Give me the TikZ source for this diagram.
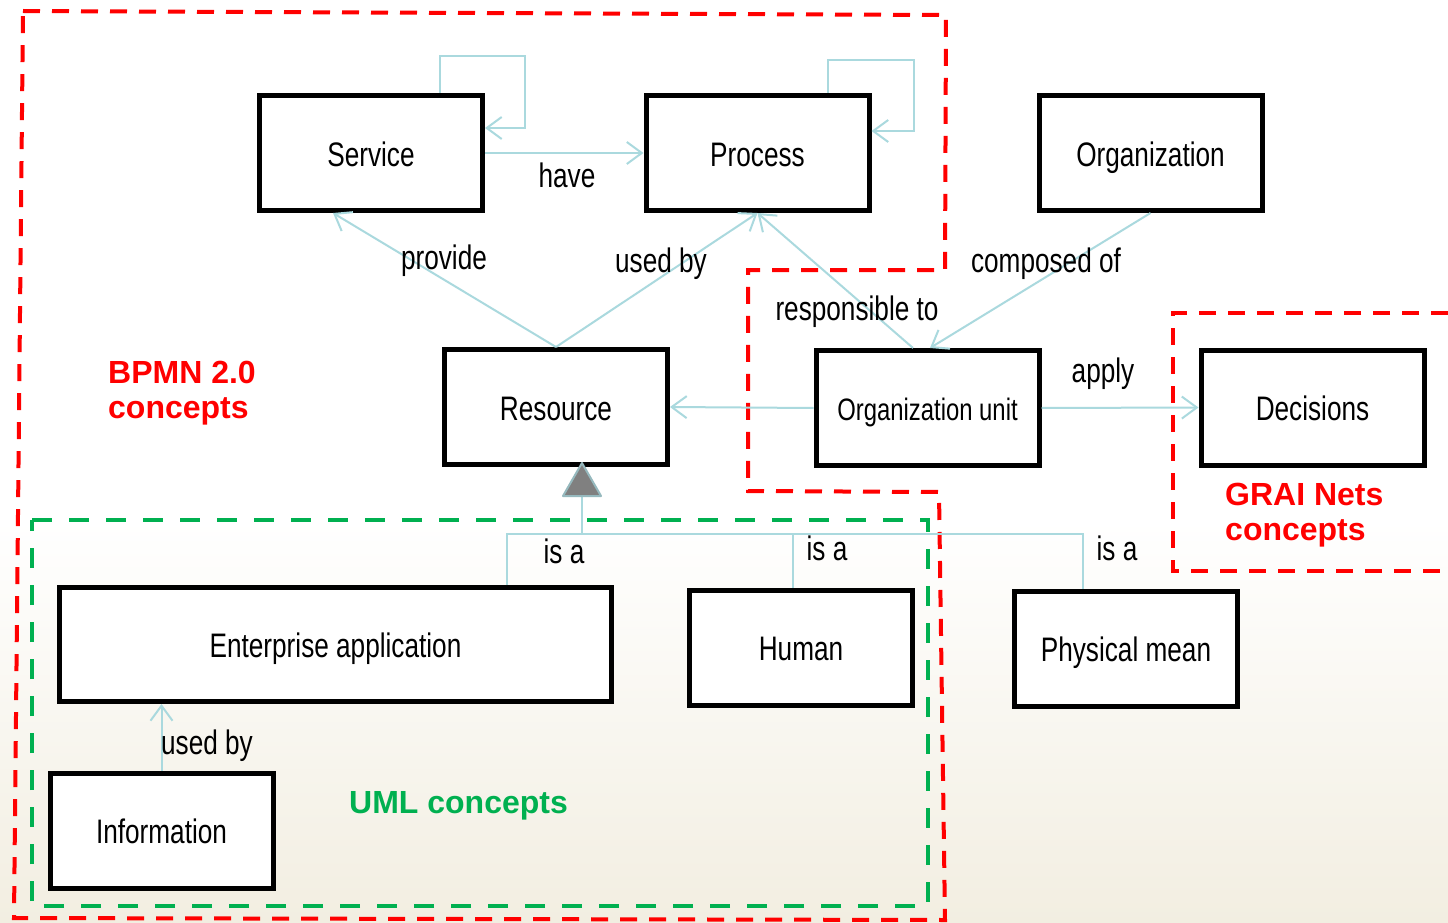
\documentclass[tikz,border=0pt]{standalone}
\usepackage{fontspec}
\setmainfont{Liberation Sans}[FakeStretch=0.77]
\newfontfamily\tagfont{Liberation Sans}
\usetikzlibrary{arrows.meta}

\definecolor{linkblue}{RGB}{170,217,222}
\definecolor{tagred}{RGB}{255,0,0}
\definecolor{taggreen}{RGB}{0,176,80}
\definecolor{paper}{RGB}{242,238,225}
\definecolor{trigray}{RGB}{128,128,128}
\definecolor{triedge}{RGB}{150,185,190}

\tikzset{
  box/.style={draw=black, line width=5pt, fill=white, inner sep=0pt,
    minimum width=223pt, minimum height=115pt,
    text height=26pt, text depth=0pt,
    font=\fontsize{34}{40}\selectfont},
  conn/.style={draw=linkblue, line width=2pt},
  arr/.style={conn, -{Straight Barb[length=15pt,width=22pt]}},
  lbl/.style={inner sep=0pt, font=\fontsize{34}{40}\selectfont},
  tag/.style={inner sep=0pt, anchor=base west,
    font=\tagfont\bfseries\fontsize{32}{36}\selectfont},
  reddash/.style={draw=tagred, line width=4pt, dash pattern=on 17pt off 12pt},
  greendash/.style={draw=taggreen, line width=4.5pt, dash pattern=on 20pt off 17pt},
  tri/.style={fill=trigray, draw=triedge, line width=2pt, line join=round}
}

\begin{document}
\begin{tikzpicture}[x=1pt, y=-1pt]
  \useasboundingbox (0,0) rectangle (1448,923);
  % paper background fading to beige at the bottom
  \fill[white] (0,0) rectangle (1448,923);
  \shade[top color=white, bottom color=paper] (0,520) rectangle (1448,923);

  % concept areas
  \draw[reddash] (23,11) -- (946,15) -- (945,270) -- (748,270) -- (748,491)
    -- (939,492) -- (945,920) -- (14,918) -- cycle;
  \draw[reddash] (1448,313) -- (1173,313) -- (1173,571) -- (1448,571);
  \draw[greendash] (32,520) -- (928,520) -- (928,906) -- (32,906) -- cycle;

  % concepts
  \node[box] (svc) at (371,153) {Service};
  \node[box] (proc) at (757.5,153) {Process};
  \node[box] (org) at (1150.5,153) {Organization};
  \node[box] (res) at (556,407) {Resource};
  \node[box, font=\fontsize{31}{36}\selectfont, text height=24pt] (ou) at (927.5,408) {Organization unit};
  \node[box] (dec) at (1312.5,407.5) {Decisions};
  \node[box, minimum width=552pt, minimum height=114pt] (ea) at (335.5,644.5) {Enterprise application};
  \node[box] (hum) at (801,647.5) {Human};
  \node[box] (pm) at (1126,648.5) {Physical mean};
  \node[box] (info) at (161.5,830.5) {Information};

  % self associations
  \draw[arr] (svc.north -| 440,0) |- (525,56) |- (svc.east |- 0,128);
  \draw[arr] (proc.north -| 828,0) |- (914,60) |- (proc.east |- 0,131);

  % associations
  \draw[arr] (svc.east) -- (proc.west);
  \draw[arr] (res.north) -- (svc.south -| 333,0);
  \draw[arr] (res.north) -- (proc.south);
  \draw[arr] (ou.north -| 913,0) -- (proc.south);
  \draw[arr] (org.south) -- (ou.north -| 930,0);
  \draw[arr] (ou.west) -- (res.east);
  \draw[arr] (ou.east) -- (dec.west);
  \draw[arr] (info.north) -- (ea.south -| info.north);

  % generalisation of Resource
  \coordinate (tritop) at (582,463);
  \coordinate (tribase) at (582,496);
  \coordinate (isabar) at (582,534);
  \draw[conn] (tribase) -- (isabar);
  \draw[conn] (ea.north -| 507,0) -- (507,534) -- (1083,534) -- (pm.north -| 1083,0);
  \draw[conn] (hum.north -| 793,0) -- (793,534);
  \filldraw[tri] (tritop) -- (601,496) -- (563,496) -- cycle;

  % association labels
  \node[lbl] (lhave) at (567,175) {have};
  \node[lbl] (lprov) at (444,261) {provide};
  \node[lbl] (lused) at (661,264) {used by};
  \node[lbl] (lresp) at (857,312) {responsible to};
  \node[lbl] (lcomp) at (1046,264) {composed of};
  \node[lbl] (lapply) at (1103,374) {apply};
  \node[lbl] (lisa1) at (564,551) {is a};
  \node[lbl] (lisa2) at (827,548) {is a};
  \node[lbl] (lisa3) at (1117,548) {is a};
  \node[lbl] (lused2) at (207,746) {used by};

  % area titles
  \node[tag, text=tagred] (bpmnA) at (108,383) {BPMN 2.0};
  \node[tag, text=tagred] (bpmnB) at (108,418) {concepts};
  \node[tag, text=tagred] (graiA) at (1225,505) {GRAI Nets};
  \node[tag, text=tagred] (graiB) at (1225,540) {concepts};
  \node[tag, text=taggreen] (uml) at (349,813) {UML concepts};
\end{tikzpicture}
\end{document}
